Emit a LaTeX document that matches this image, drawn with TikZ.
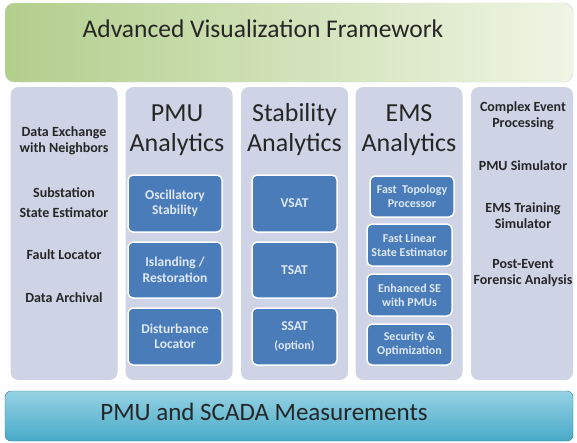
\documentclass[tikz,border=0pt]{standalone}
\usepackage{fontspec}
\setmainfont{Carlito}
\usepackage{xcolor}
\definecolor{colfill}{RGB}{206,212,229}
\definecolor{boxfill}{RGB}{74,124,186}
\definecolor{boxtext}{RGB}{222,232,246}
\definecolor{greendark}{RGB}{178,206,140}
\definecolor{greenlight}{RGB}{240,245,228}
\definecolor{tealdark}{RGB}{72,170,200}
\definecolor{teallight}{RGB}{150,210,228}
\usetikzlibrary{positioning}

\tikzset{
  colbox/.style={fill=colfill, rounded corners=8pt, minimum width=107pt, minimum height=293pt},
  subbox/.style={fill=boxfill, draw=white, line width=1.5pt, rounded corners=5pt,
    text=boxtext, font=\bfseries\fontsize{13.5}{15.5}\selectfont, align=center},
  emsbox/.style={subbox, minimum width=85pt, minimum height=42pt, font=\bfseries\fontsize{12}{14}\selectfont},
  sidetext/.style={font=\bfseries\fontsize{14}{16}\selectfont, align=center, text=black!85},
  headtext/.style={font=\fontsize{26}{30}\selectfont, align=center, text=black!85}
}

\begin{document}
\begin{tikzpicture}[x=1pt,y=-1pt]
    \useasboundingbox (0,0) rectangle (577,442);
    % top and bottom banners
    \node[rounded corners=9pt, draw=white!70!gray, left color=greendark, right color=greenlight,
      minimum width=568pt, minimum height=79pt] (vis) at (289,42.5) {};
    \node[font=\fontsize{25.5}{28}\selectfont, text=black!85] (vistext) at (263,29) {Advanced Visualization Framework};
    \node[rounded corners=6pt, draw=tealdark!70!black, top color=teallight, bottom color=tealdark,
      minimum width=568pt, minimum height=50pt] (meas) at (289,416) {};
    \node[font=\fontsize{25}{28}\selectfont, text=black!85] (meastext) at (264,412) {PMU and SCADA Measurements};
    % columns
    \node[colbox] (colA) at (64,233.5) {};
    \node[colbox] (colB) at (179,233.5) {};
    \node[colbox] (colC) at (294.5,233.5) {};
    \node[colbox] (colD) at (409,233.5) {};
    \node[colbox, minimum width=102pt] (colE) at (522,233.5) {};
    % left column
    \node[sidetext] (exch) at (64,140.5) {Data Exchange\\with Neighbors};
    \node[sidetext] (subst) at (64,202.5) {Substation\\[4pt]State Estimator};
    \node[sidetext] (fault) at (64,255) {Fault Locator};
    \node[sidetext] (arch) at (64,298) {Data Archival};
    % headers
    \node[headtext] (pmuh) at (177,130) {PMU\\Analytics};
    \node[headtext] (stabh) at (294.5,130) {Stability\\Analytics};
    \node[headtext] (emsh) at (409,130) {EMS\\Analytics};
    % PMU analytics
    \node[subbox, minimum width=94pt, minimum height=57pt] (osc) at (175,203.5) {Oscillatory\\Stability};
    \node[subbox, minimum width=94pt, minimum height=56pt] (isl) at (175,270) {Islanding /\\Restoration};
    \node[subbox, minimum width=94pt, minimum height=57pt] (dist) at (175,336.5) {Disturbance\\Locator};
    % stability analytics
    \node[subbox, minimum width=85pt, minimum height=57pt] (vsat) at (294.5,203.5) {VSAT};
    \node[subbox, minimum width=85pt, minimum height=56pt] (tsat) at (294.5,270) {TSAT};
    \node[subbox, minimum width=85pt, minimum height=57pt] (ssat) at (294.5,336.5) {SSAT\\[3pt]{\fontsize{12}{14}\selectfont(option)}};
    % EMS analytics
    \node[emsbox, minimum width=84pt, minimum height=41pt] (topo) at (412,196.5) {Fast~ Topology\\Processor};
    \node[emsbox] (flse) at (409.5,245) {Fast Linear\\State Estimator};
    \node[emsbox] (ese) at (409.5,295) {Enhanced SE\\with PMUs};
    \node[emsbox, minimum height=41pt] (secop) at (409.5,344.5) {Security \&\\Optimization};
    % right column
    \node[sidetext] (cep) at (523,115.5) {Complex Event\\Processing};
    \node[sidetext] (pmusim) at (523,166) {PMU Simulator};
    \node[sidetext] (emstr) at (523,216) {EMS Training\\Simulator};
    \node[sidetext] (post) at (523,273.5) {Post-Event\\Forensic Analysis};
\end{tikzpicture}
\end{document}
